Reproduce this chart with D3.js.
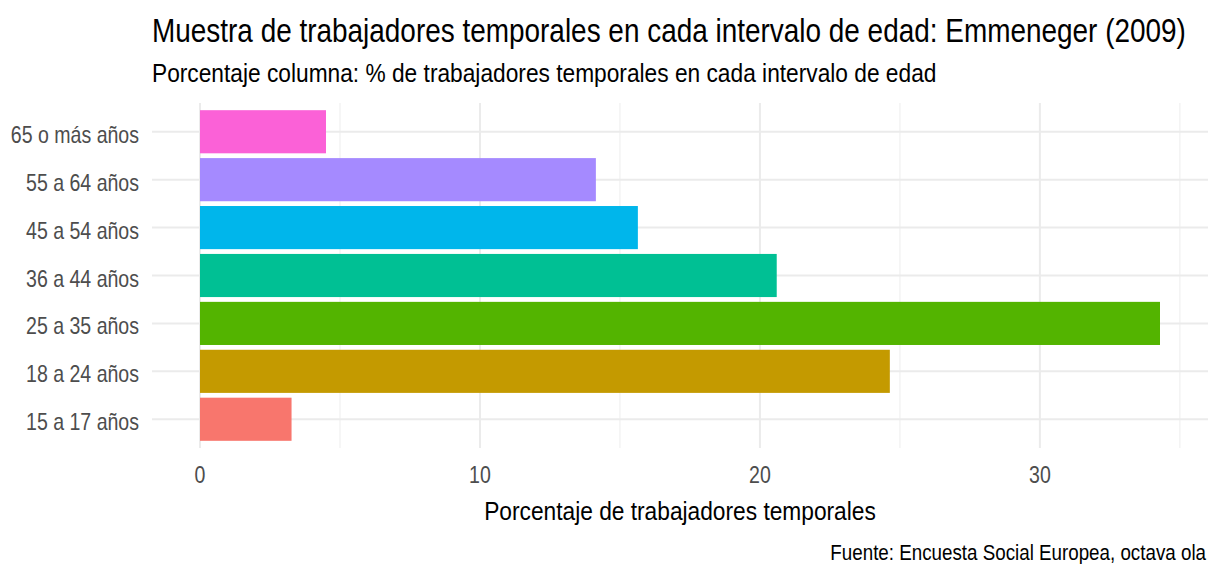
<!DOCTYPE html>
<html>
<head>
<meta charset="utf-8">
<script src="https://cdn.jsdelivr.net/npm/d3@7"></script>
<style>
  body { margin: 0; background: #fff; }
  text { font-family: "Liberation Sans", Arial, sans-serif; }
</style>
</head>
<body>
<script>
// datos: % de trabajadores temporales por intervalo de edad
const categorias = ["15 a 17 años", "18 a 24 años", "25 a 35 años", "36 a 44 años", "45 a 54 años", "55 a 64 años", "65 o más años"];
const valores = [3.27, 24.64, 34.29, 20.6, 15.64, 14.14, 4.5];
const colores = ["#F8766D", "#C49A00", "#53B400", "#00C094", "#00B6EB", "#A58AFF", "#FB61D7"];
const ticksX = [0, 10, 20, 30];
const menoresX = [5, 15, 25, 35];

const W = 1209, H = 564;
const m = {top: 103, right: 1, bottom: 116, left: 152};
const w = W - m.left - m.right;
const h = H - m.top - m.bottom;
const k = 0.85; // letra estrecha: compresión horizontal

const svg = d3.select('body').append('svg')
  .attr('width', W)
  .attr('height', H);

const maxV = d3.max(valores);
const x = d3.scaleLinear()
  .domain([-maxV * 0.05, maxV * 1.05])
  .range([m.left, m.left + w]);

// escala discreta con expansión de 0.6 a cada lado, como ggplot
const y = d3.scalePoint()
  .domain(categorias.slice().reverse())
  .range([m.top, m.top + h])
  .padding(0.6);
const paso = y.step();

const grid = svg.append('g');
grid.selectAll('.menor')
  .data(menoresX)
  .enter().append('line')
  .attr('x1', d => x(d)).attr('x2', d => x(d))
  .attr('y1', m.top).attr('y2', m.top + h)
  .attr('stroke', '#F0F0F0')
  .attr('stroke-width', 1.2);
grid.selectAll('.mayorX')
  .data(ticksX)
  .enter().append('line')
  .attr('x1', d => x(d)).attr('x2', d => x(d))
  .attr('y1', m.top).attr('y2', m.top + h)
  .attr('stroke', '#EBEBEB')
  .attr('stroke-width', 2);
grid.selectAll('.mayorY')
  .data(categorias)
  .enter().append('line')
  .attr('x1', m.left).attr('x2', m.left + w)
  .attr('y1', d => y(d)).attr('y2', d => y(d))
  .attr('stroke', '#EBEBEB')
  .attr('stroke-width', 2);

svg.append('g')
  .selectAll('rect')
  .data(categorias)
  .enter().append('rect')
  .attr('x', x(0))
  .attr('y', d => y(d) - paso * 0.45)
  .attr('height', paso * 0.9)
  .attr('width', (d, i) => x(valores[i]) - x(0))
  .attr('fill', (d, i) => colores[i]);

// etiquetas del eje y (estrechadas con scale)
svg.append('g')
  .selectAll('g')
  .data(categorias)
  .enter().append('g')
  .attr('transform', d => `translate(${m.left - 13},${y(d)}) scale(${k},1)`)
  .append('text')
  .attr('dy', '0.48em')
  .attr('text-anchor', 'end')
  .attr('fill', '#4D4D4D')
  .style('font-size', '23px')
  .text(d => d);

svg.append('g')
  .selectAll('g')
  .data(ticksX)
  .enter().append('g')
  .attr('transform', d => `translate(${x(d)},483) scale(${k},1)`)
  .append('text')
  .attr('text-anchor', 'middle')
  .attr('fill', '#4D4D4D')
  .style('font-size', '23px')
  .text(d => d);

// títulos: se mide el ancho natural y se comprime hasta el ancho deseado
function texto(px, py, ancla, tam, ancho, cadena) {
  const g = svg.append('g');
  const t = g.append('text')
    .attr('text-anchor', ancla)
    .style('font-size', tam + 'px')
    .text(cadena);
  const s = ancho / t.node().getComputedTextLength();
  g.attr('transform', `translate(${px},${py}) scale(${s},1)`);
}

texto(m.left, 41.5, 'start', 32.5, 1034, 'Muestra de trabajadores temporales en cada intervalo de edad: Emmeneger (2009)');
texto(m.left, 82, 'start', 26, 785, 'Porcentaje columna: % de trabajadores temporales en cada intervalo de edad');
texto(m.left + w / 2, 520, 'middle', 26, 392, 'Porcentaje de trabajadores temporales');
texto(W - 3, 560, 'end', 22, 376, 'Fuente: Encuesta Social Europea, octava ola');
</script>
</body>
</html>
